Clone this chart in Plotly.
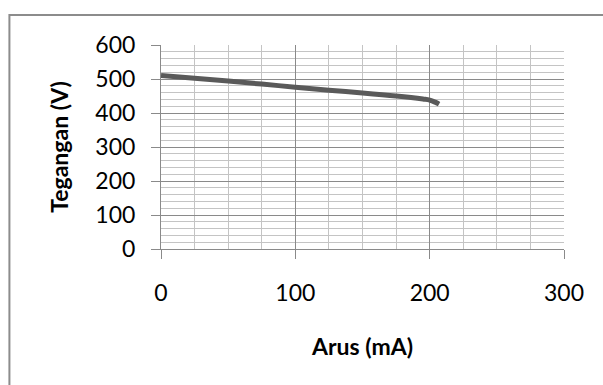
import plotly.graph_objects as go

arus = [0, 25, 50, 75, 100, 125, 150, 175, 195, 200, 204, 207]
tegangan = [510, 502, 494, 485, 476, 467, 459, 450, 441, 438, 432, 426]

W, H = 603, 385
L, R, T, B = 160.7, 564, 45, 249
FONT = "Lato, Open Sans, sans-serif"

fig = go.Figure()
fig.add_trace(go.Scatter(x=arus, y=tegangan, mode="lines",
                         line=dict(color="#5a5a5a", width=5, shape="spline"),
                         showlegend=False))

pw, ph = R - L, B - T
def px(x):
    return (x - L) / pw
def py(y):
    return (B - y) / ph

fig.add_shape(type="path", xref="paper", yref="paper",
              path=f"M {px(9)} {py(390)} L {px(9)} {py(15)} L {px(610)} {py(15)}",
              line=dict(color="#8c8c8c", width=2))

fig.update_layout(
    width=W, height=H,
    margin=dict(l=L, r=W - R, t=T, b=H - B),
    paper_bgcolor="white", plot_bgcolor="white",
    font=dict(family=FONT, size=23, color="#000000"),
)
fig.update_xaxes(range=[0, 300], tickvals=[0, 100, 200, 300],
                 showgrid=True, gridcolor="#8a8a8a", gridwidth=1,
                 minor=dict(tickmode="linear", tick0=0, dtick=25, showgrid=True,
                            gridcolor="#c4c4c4", gridwidth=1, ticks=""),
                 showline=True, linecolor="#8a8a8a", linewidth=1,
                 ticks="outside", ticklen=9, tickcolor="#8a8a8a",
                 ticklabelstandoff=14, zeroline=False, automargin=False,
                 title=dict(text="<b>Arus (mA)</b>", font=dict(size=23), standoff=34))
fig.update_yaxes(range=[0, 600], tickvals=[0, 100, 200, 300, 400, 500, 600],
                 showgrid=True, gridcolor="#8a8a8a", gridwidth=1,
                 minor=dict(tickmode="linear", tick0=0, dtick=20, showgrid=True,
                            gridcolor="#c4c4c4", gridwidth=1, ticks=""),
                 showline=True, linecolor="#8a8a8a", linewidth=1,
                 ticks="outside", ticklen=9, tickcolor="#8a8a8a",
                 ticklabelstandoff=11, zeroline=False, automargin=False,
                 title=dict(text="<b>Tegangan (V)</b>", font=dict(size=23), standoff=20))

fig.write_html("out.html")
